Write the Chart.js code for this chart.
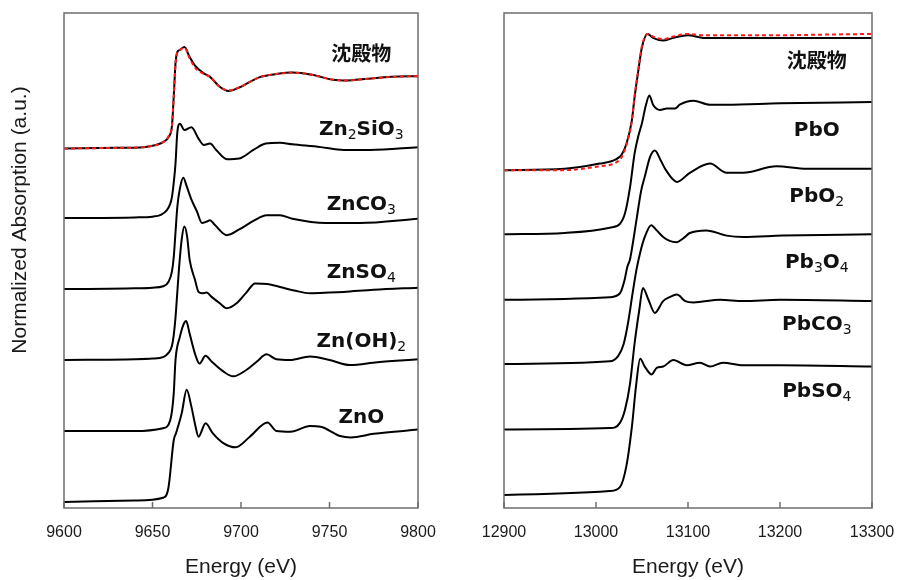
<!DOCTYPE html>
<html>
<head>
<meta charset="utf-8">
<script src="https://cdn.jsdelivr.net/npm/chart.js@4.4.1/dist/chart.umd.min.js"></script>
<style>
  html, body { margin: 0; padding: 0; background: #fff; }
  #wrap { position: relative; width: 900px; height: 580px; }
  #wrap canvas { position: absolute; top: 0; }
  #znChart { left: 0; }
  #pbChart { left: 450px; }
</style>
</head>
<body>
<div id="wrap">
  <canvas id="znChart" width="450" height="580"></canvas>
  <canvas id="pbChart" width="450" height="580"></canvas>
</div>
<script>
// ---- Zn K-edge (left panel), normalized absorption, each spectrum stacked by one edge step ----
const znNames = ["沈殿物", "Zn_2SiO_3", "ZnCO_3", "ZnSO_4", "Zn(OH)_2", "ZnO"];
const znOffsets = [5, 4, 3, 2, 1, 0];

const znPrecipE  = [9600, 9630, 9645, 9652, 9656, 9659, 9661, 9662, 9663, 9664, 9665.5, 9668, 9671, 9674, 9679, 9682.5, 9688, 9693, 9699, 9705, 9711, 9720, 9729, 9740, 9752, 9760, 9770, 9785, 9800];
const znPrecipMu = [-0.02, -0.01, 0, 0.03, 0.07, 0.14, 0.3, 0.71, 1.18, 1.34, 1.37, 1.41, 1.27, 1.15, 1.04, 0.99, 0.85, 0.79, 0.84, 0.92, 0.99, 1.03, 1.05, 1.02, 0.95, 0.94, 0.96, 0.99, 1.0];
const znFitMu    = [-0.02, -0.01, 0, 0.03, 0.07, 0.15, 0.31, 0.72, 1.17, 1.33, 1.37, 1.40, 1.25, 1.12, 1.03, 0.99, 0.85, 0.80, 0.84, 0.92, 0.99, 1.03, 1.05, 1.02, 0.95, 0.94, 0.96, 0.99, 1.0];

const zn2sio3E  = [9600, 9640, 9650, 9655, 9658, 9660, 9661, 9662, 9663, 9664, 9665.5, 9668, 9672, 9676, 9679, 9682.5, 9686, 9692, 9699, 9707, 9714, 9722, 9729, 9745, 9758, 9773, 9800];
const zn2sio3Mu = [0, 0.01, 0.02, 0.05, 0.11, 0.2, 0.3, 0.5, 0.77, 1.2, 1.33, 1.24, 1.28, 1.12, 1.03, 1.05, 0.96, 0.83, 0.84, 0.96, 1.05, 1.06, 1.04, 1.0, 0.96, 0.96, 1.0];

const znco3E  = [9600, 9640, 9650, 9656, 9659, 9661, 9662, 9663, 9664, 9665.5, 9667.4, 9669.3, 9672, 9675, 9678, 9680.5, 9682.5, 9685, 9692, 9699, 9707, 9714.5, 9722, 9729, 9748, 9767, 9800];
const znco3Mu = [0, 0.01, 0.02, 0.04, 0.1, 0.25, 0.45, 0.8, 1.15, 1.42, 1.57, 1.45, 1.26, 1.10, 0.93, 0.95, 0.97, 0.91, 0.76, 0.84, 0.96, 1.04, 1.04, 0.99, 0.93, 0.93, 0.99];

const znso4E  = [9600, 9640, 9650, 9656, 9659, 9661, 9662, 9663, 9664, 9665, 9666.5, 9668, 9669.5, 9671, 9674, 9676, 9678, 9680.6, 9683.4, 9688, 9692, 9697.5, 9703, 9708, 9715, 9722, 9730, 9739, 9750, 9758, 9775, 9800];
const znso4Mu = [0, 0.01, 0.02, 0.04, 0.1, 0.2, 0.35, 0.6, 0.95, 1.3, 1.7, 1.88, 1.75, 1.41, 1.13, 0.96, 0.94, 0.95, 0.89, 0.80, 0.73, 0.80, 0.95, 1.08, 1.07, 1.03, 0.98, 0.94, 0.95, 0.96, 0.99, 1.02];

const znoh2E  = [9600, 9640, 9656, 9660, 9662, 9663, 9665.5, 9667.5, 9669, 9671, 9674, 9676.5, 9680, 9683.4, 9690, 9695.6, 9703, 9709, 9714.5, 9720, 9727.7, 9739, 9750, 9761.6, 9777, 9800];
const znoh2Mu = [0, 0, 0.04, 0.15, 0.53, 1.0, 1.33, 1.5, 1.55, 1.37, 1.09, 0.95, 1.06, 0.98, 0.84, 0.77, 0.86, 0.98, 1.08, 1.01, 1.0, 1.05, 1.0, 0.93, 0.97, 1.01];

const znoE  = [9600, 9640, 9656, 9659, 9662, 9663.3, 9666.5, 9669.3, 9672, 9674, 9676, 9680, 9684, 9690, 9697, 9705, 9715, 9720, 9728, 9739, 9745, 9756, 9762, 9775, 9800];
const znoMu = [0, 0.02, 0.06, 0.2, 0.87, 0.97, 1.25, 1.58, 1.34, 1.1, 0.92, 1.11, 0.97, 0.83, 0.77, 0.92, 1.12, 1.0, 0.99, 1.07, 1.06, 0.93, 0.91, 0.96, 1.02];

// ---- Pb L3-edge (right panel), stacked by half an edge step ----
const pbNames = ["沈殿物", "PbO", "PbO_2", "Pb_3O_4", "PbCO_3", "PbSO_4"];
const pbOffsets = [2.5, 2.0, 1.5, 1.0, 0.5, 0];

const pbPrecipE  = [12900, 12966, 13004, 13021, 13028, 13033, 13039, 13042, 13046, 13050, 13056, 13062, 13073, 13084, 13100, 13117, 13156, 13200, 13250, 13300];
const pbPrecipMu = [-0.02, -0.01, 0.03, 0.06, 0.10, 0.18, 0.36, 0.54, 0.74, 0.92, 1.02, 0.99, 0.97, 0.99, 1.01, 0.99, 0.99, 0.99, 0.99, 0.99];
const pbFitMu    = [-0.02, -0.02, 0.01, 0.035, 0.08, 0.17, 0.36, 0.55, 0.75, 0.93, 1.02, 1.0, 0.98, 1.0, 1.02, 1.01, 1.01, 1.01, 1.015, 1.02];

const pboE  = [12900, 12966, 13015, 13026, 13031.5, 13037, 13042, 13046, 13050, 13054, 13058, 13062, 13069.6, 13077, 13086, 13091, 13106, 13124, 13142, 13200, 13300];
const pboMu = [-0.01, 0, 0.04, 0.07, 0.15, 0.35, 0.61, 0.74, 0.84, 0.97, 1.05, 0.98, 0.94, 0.95, 0.95, 0.98, 1.01, 0.98, 0.98, 0.99, 1.0];

const pbo2E  = [12900, 13015, 13026, 13031, 13034, 13037, 13040, 13044, 13049, 13053, 13058.7, 13064, 13070, 13076, 13088, 13102, 13124, 13142, 13160, 13196, 13229, 13300];
const pbo2Mu = [-0.01, 0.01, 0.04, 0.14, 0.24, 0.30, 0.42, 0.6, 0.82, 0.93, 1.08, 1.13, 1.06, 0.98, 0.89, 0.96, 1.03, 0.96, 0.96, 1.01, 0.99, 0.99];

const pb3o4E  = [12900, 13015, 13024, 13030, 13035, 13040, 13044, 13048, 13053, 13060, 13066, 13073, 13080, 13088, 13095, 13102, 13120, 13142, 13160, 13203, 13300];
const pb3o4Mu = [0, 0.02, 0.06, 0.15, 0.32, 0.55, 0.72, 0.85, 0.97, 1.06, 1.02, 0.97, 0.94, 0.93, 0.96, 1.0, 1.02, 0.98, 0.97, 0.98, 0.99];

const pbco3E  = [12900, 13015, 13026, 13031.5, 13037, 13042, 13047, 13051, 13057, 13064, 13073, 13080, 13088, 13097, 13106, 13135, 13160, 13200, 13300];
const pbco3Mu = [0, 0.01, 0.05, 0.15, 0.35, 0.66, 0.91, 1.08, 0.99, 0.89, 0.98, 1.01, 1.03, 0.98, 0.97, 0.99, 0.98, 0.99, 0.98];

const pbso4E  = [12900, 13015, 13026, 13033, 13039, 13043.5, 13048, 13053, 13060.5, 13066, 13073, 13084, 13098.5, 13113, 13124, 13138, 13160, 13200, 13300];
const pbso4Mu = [0, 0.03, 0.06, 0.22, 0.52, 0.83, 1.04, 0.98, 0.92, 0.97, 0.98, 1.03, 0.99, 1.01, 0.98, 1.01, 0.99, 0.99, 0.98];

// x tick labels
const znTicks = [9600, 9650, 9700, 9750, 9800];
const pbTicks = [12900, 13000, 13100, 13200, 13300];

const TEXT = "#1a1a1a";
Chart.defaults.font.family = "'Liberation Sans', Arial, sans-serif";
Chart.defaults.color = TEXT;

function pts(es, mus, offset) {
  return es.map((e, i) => ({ x: e, y: mus[i] + offset }));
}

function line(data, fit) {
  return {
    data,
    borderColor: fit ? "#ff1a1a" : "#000",
    borderWidth: 2,
    borderDash: fit ? [4, 3] : [],
    pointRadius: 0,
    cubicInterpolationMode: "monotone",
    order: fit ? 0 : 1
  };
}

// box around the plot and short inward ticks
const framePlugin = {
  id: "frame",
  afterDatasetsDraw(chart) {
    const { ctx, chartArea: a, scales: { x } } = chart;
    ctx.save();
    ctx.strokeStyle = "#6e6e6e";
    ctx.lineWidth = 1.5;
    ctx.strokeRect(a.left, a.top, a.right - a.left, a.bottom - a.top);
    x.ticks.forEach(t => {
      const px = x.getPixelForValue(t.value);
      ctx.beginPath();
      ctx.moveTo(px, a.bottom);
      ctx.lineTo(px, a.bottom - 6);
      ctx.stroke();
    });
    ctx.restore();
  }
};

// compound names with subscripts, e.g. "Zn_2SiO_3"
const labelPlugin = {
  id: "specLabels",
  afterDatasetsDraw(chart, args, opts) {
    const { ctx, scales: { x, y } } = chart;
    const mainFont = "bold 20px 'DejaVu Sans', 'Noto Sans CJK JP', sans-serif";
    const subFont = "14px 'DejaVu Sans', sans-serif";
    ctx.save();
    ctx.fillStyle = "#111";
    ctx.textBaseline = "alphabetic";
    opts.names.forEach((name, i) => {
      const parts = name.split(/_(\d)/);
      let w = 0;
      parts.forEach((p, k) => {
        ctx.font = k % 2 ? subFont : mainFont;
        w += ctx.measureText(p).width;
      });
      let px = x.getPixelForValue(opts.xAt) - w / 2;
      const py = y.getPixelForValue(opts.yAt[i]);
      parts.forEach((p, k) => {
        ctx.font = k % 2 ? subFont : mainFont;
        ctx.textAlign = "left";
        ctx.fillText(p, px, k % 2 ? py + 4 : py);
        px += ctx.measureText(p).width;
      });
    });
    ctx.restore();
  }
};

const yTitlePlugin = {
  id: "yTitle",
  afterDraw(chart, args, opts) {
    if (!opts.text) return;
    const { ctx } = chart;
    ctx.save();
    ctx.translate(opts.x, opts.y);
    ctx.rotate(-Math.PI / 2);
    ctx.font = "21px 'Liberation Sans', Arial, sans-serif";
    ctx.fillStyle = TEXT;
    ctx.textAlign = "center";
    ctx.textBaseline = "middle";
    ctx.fillText(opts.text, 0, 0);
    ctx.restore();
  }
};

function makeChart(id, cfg) {
  const datasets = [line(pts(cfg.fitE, cfg.fitMu, cfg.offsets[0]), true)];
  cfg.series.forEach(([es, mus], i) => datasets.push(line(pts(es, mus, cfg.offsets[i]), false)));
  return new Chart(document.getElementById(id), {
    type: "line",
    data: { datasets },
    plugins: [framePlugin, labelPlugin, yTitlePlugin],
    options: {
      responsive: false,
      animation: false,
      layout: { padding: cfg.padding },
      plugins: {
        legend: { display: false },
        tooltip: { enabled: false },
        specLabels: { names: cfg.names, xAt: cfg.labelX, yAt: cfg.labelY },
        yTitle: cfg.yTitle || {}
      },
      scales: {
        x: {
          type: "linear",
          min: cfg.ticks[0],
          max: cfg.ticks[cfg.ticks.length - 1],
          grid: { display: false, drawTicks: false },
          border: { display: false },
          afterBuildTicks: s => { s.ticks = cfg.ticks.map(v => ({ value: v })); },
          ticks: { autoSkip: false, maxRotation: 0, padding: 15, font: { size: 16 }, callback: v => String(v) },
          title: { display: true, text: "Energy (eV)", font: { size: 21 }, padding: { top: 0, bottom: 0 } },
          afterFit: s => { s.height = 72; s.paddingLeft = 0; s.paddingRight = 0; }
        },
        y: { display: false, min: cfg.yRange[0], max: cfg.yRange[1] }
      }
    }
  });
}

makeChart("znChart", {
  names: znNames,
  offsets: znOffsets,
  fitE: znPrecipE, fitMu: znFitMu,
  series: [[znPrecipE, znPrecipMu], [zn2sio3E, zn2sio3Mu], [znco3E, znco3Mu], [znso4E, znso4Mu], [znoh2E, znoh2Mu], [znoE, znoMu]],
  ticks: znTicks,
  yRange: [-0.085, 6.89],
  padding: { left: 64, right: 32, top: 13, bottom: 0 },
  labelX: 9768,
  labelY: [6.21, 5.17, 4.11, 3.15, 2.19, 1.11],
  yTitle: { text: "Normalized Absorption (a.u.)", x: 20, y: 220 }
});

makeChart("pbChart", {
  names: pbNames,
  offsets: pbOffsets,
  fitE: pbPrecipE, fitMu: pbFitMu,
  series: [[pbPrecipE, pbPrecipMu], [pboE, pboMu], [pbo2E, pbo2Mu], [pb3o4E, pb3o4Mu], [pbco3E, pbco3Mu], [pbso4E, pbso4Mu]],
  ticks: pbTicks,
  yRange: [-0.1, 3.68],
  padding: { left: 54, right: 28, top: 13, bottom: 0 },
  labelX: 13240,
  labelY: [3.26, 2.74, 2.24, 1.73, 1.26, 0.75]
});
</script>
</body>
</html>
